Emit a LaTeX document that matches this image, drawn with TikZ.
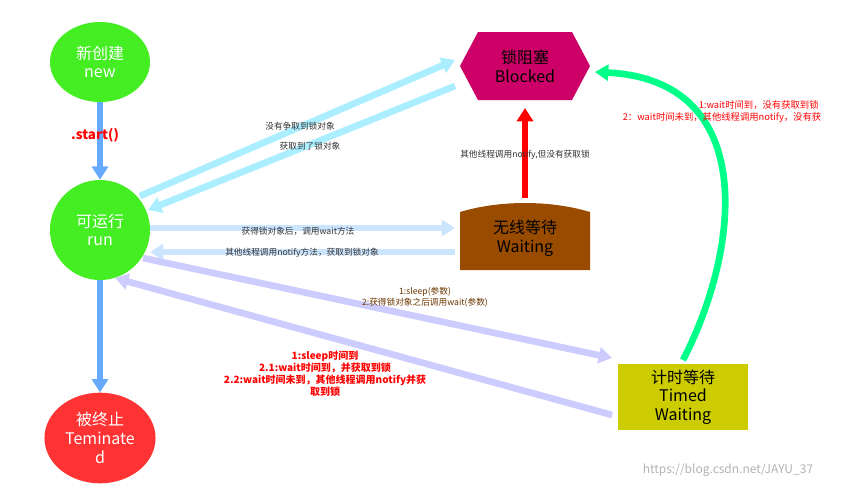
\documentclass[tikz,border=0pt]{standalone}
\usepackage{fontspec}
\setmainfont{Noto Sans CJK SC}
\usetikzlibrary{shapes.geometric,arrows.meta}
\definecolor{gnode}{HTML}{44EE22}
\definecolor{rnode}{HTML}{FF3333}
\definecolor{blk}{HTML}{CC0066}
\definecolor{wt}{HTML}{994C00}
\definecolor{tw}{HTML}{CCCC00}
\definecolor{ab}{HTML}{66AAFF}
\definecolor{ac}{HTML}{AAEEFF}
\definecolor{aw}{HTML}{CCE5FF}
\definecolor{al}{HTML}{CCCCFF}
\definecolor{ag}{HTML}{00FF88}
\definecolor{lbl}{HTML}{333333}
\begin{document}
\begin{tikzpicture}[x=0.75pt,y=-0.75pt,
  st/.style={ellipse,fill=gnode,minimum width=75pt,minimum height=60pt,align=center,font=\fontsize{12}{14}\selectfont,text=white},
  fat/.style={line width=5pt,-{Triangle[length=10pt,width=12pt]}},
  small/.style={font=\fontsize{6.5}{8}\selectfont,text=lbl,align=center},
  redl/.style={font=\bfseries\fontsize{7.5}{9}\selectfont,text=red,align=center}]
\useasboundingbox (0,0) rectangle (844,490);
\node[st] (new) at (100,62) {新创建\\new};
\node[st,minimum height=75pt] (run) at (100,230) {可运行\\run};
\node[st,fill=rnode,minimum height=68pt] (term) at (100,438) {被终止\\Teminate\\d};
\node[regular polygon,regular polygon sides=6,shape border rotate=0,fill=blk,minimum width=10pt,inner sep=0pt,
  minimum size=0pt] (bl0) at (525,66) {};
\fill[blk] (460,66) -- (478,32) -- (572,32) -- (590,66) -- (572,100) -- (478,100) -- cycle;
\node[align=center,font=\fontsize{12}{14}\selectfont] (bl) at (525,66) {锁阻塞\\Blocked};
\fill[wt] (460,270) -- (460,212) .. controls (500,200) and (550,200) .. (590,212) -- (590,270) -- cycle;
\node[align=center,font=\fontsize{12}{14}\selectfont] (wa) at (525,238) {无线等待\\Waiting};
\node[fill=tw,minimum width=97pt,minimum height=49pt,align=center,font=\fontsize{12}{14}\selectfont] (tw) at (683,397) {计时等待\\Timed\\Waiting};
\coordinate (blL1) at (455,60);\coordinate (blL2) at (455,86);
\coordinate (blB) at (525,108);
\coordinate (waL1) at (455,228);\coordinate (waL2) at (455,252);\coordinate (waT) at (525,198);
\coordinate (twL1) at (612,358);\coordinate (twL2) at (612,415);
\coordinate (twT) at (683,360);\coordinate (blR) at (595,72);
\coordinate (r1) at (140,196);\coordinate (r2) at (148,210);
\coordinate (r3) at (150,228);\coordinate (r4) at (150,252);
\coordinate (r5) at (143,258);\coordinate (r6) at (115,278);
\draw[fat,ab] (new.south) -- (run.north);
\draw[fat,ab] (run.south) -- (term.north);
\node[redl,font=\bfseries\fontsize{10}{12}\selectfont] (start) at (95,135) {.start()};
\draw[fat,ac] (r1) -- (blL1);
\draw[fat,ac] (blL2) -- (r2);
\node[small] (l1) at (300,126) {没有争取到锁对象};
\node[small] (l2) at (310,146) {获取到了锁对象};
\draw[fat,aw] (r3) -- (waL1);
\draw[fat,aw] (waL2) -- (r4);
\node[small] (l3) at (298,231) {获得锁对象后，调用wait方法};
\node[small] (l4) at (302,253) {其他线程调用notify方法，获取到锁对象};
\draw[fat,red] (waT) -- (blB);
\node[small] (l5) at (525,155) {其他线程调用notify,但没有获取锁};
\draw[fat,al] (r5) -- (twL1);
\draw[fat,al] (twL2) -- (r6);
\node[small,text=wt!70!black] (l6) at (425,297) {1:sleep(参数)\\2:获得锁对象之后调用wait(参数)};
\draw[fat,ag] (twT) .. controls (740,250) and (760,80) .. (blR);
\node[font=\fontsize{7}{9}\selectfont,text=red,align=center] (l7) at (722,112) {\hspace*{55pt}1:wait时间到，没有获取到锁\\2：wait时间未到，其他线程调用notify，没有获};
\node[redl] (l8) at (325,374) {1:sleep时间到\\2.1:wait时间到，并获取到锁\\2.2:wait时间未到，其他线程调用notify并获\\取到锁};
\node[font=\fontsize{9}{11}\selectfont,text=gray!60] (wm) at (728,470) {https://blog.csdn.net/JAYU\_37};
\end{tikzpicture}
\end{document}
